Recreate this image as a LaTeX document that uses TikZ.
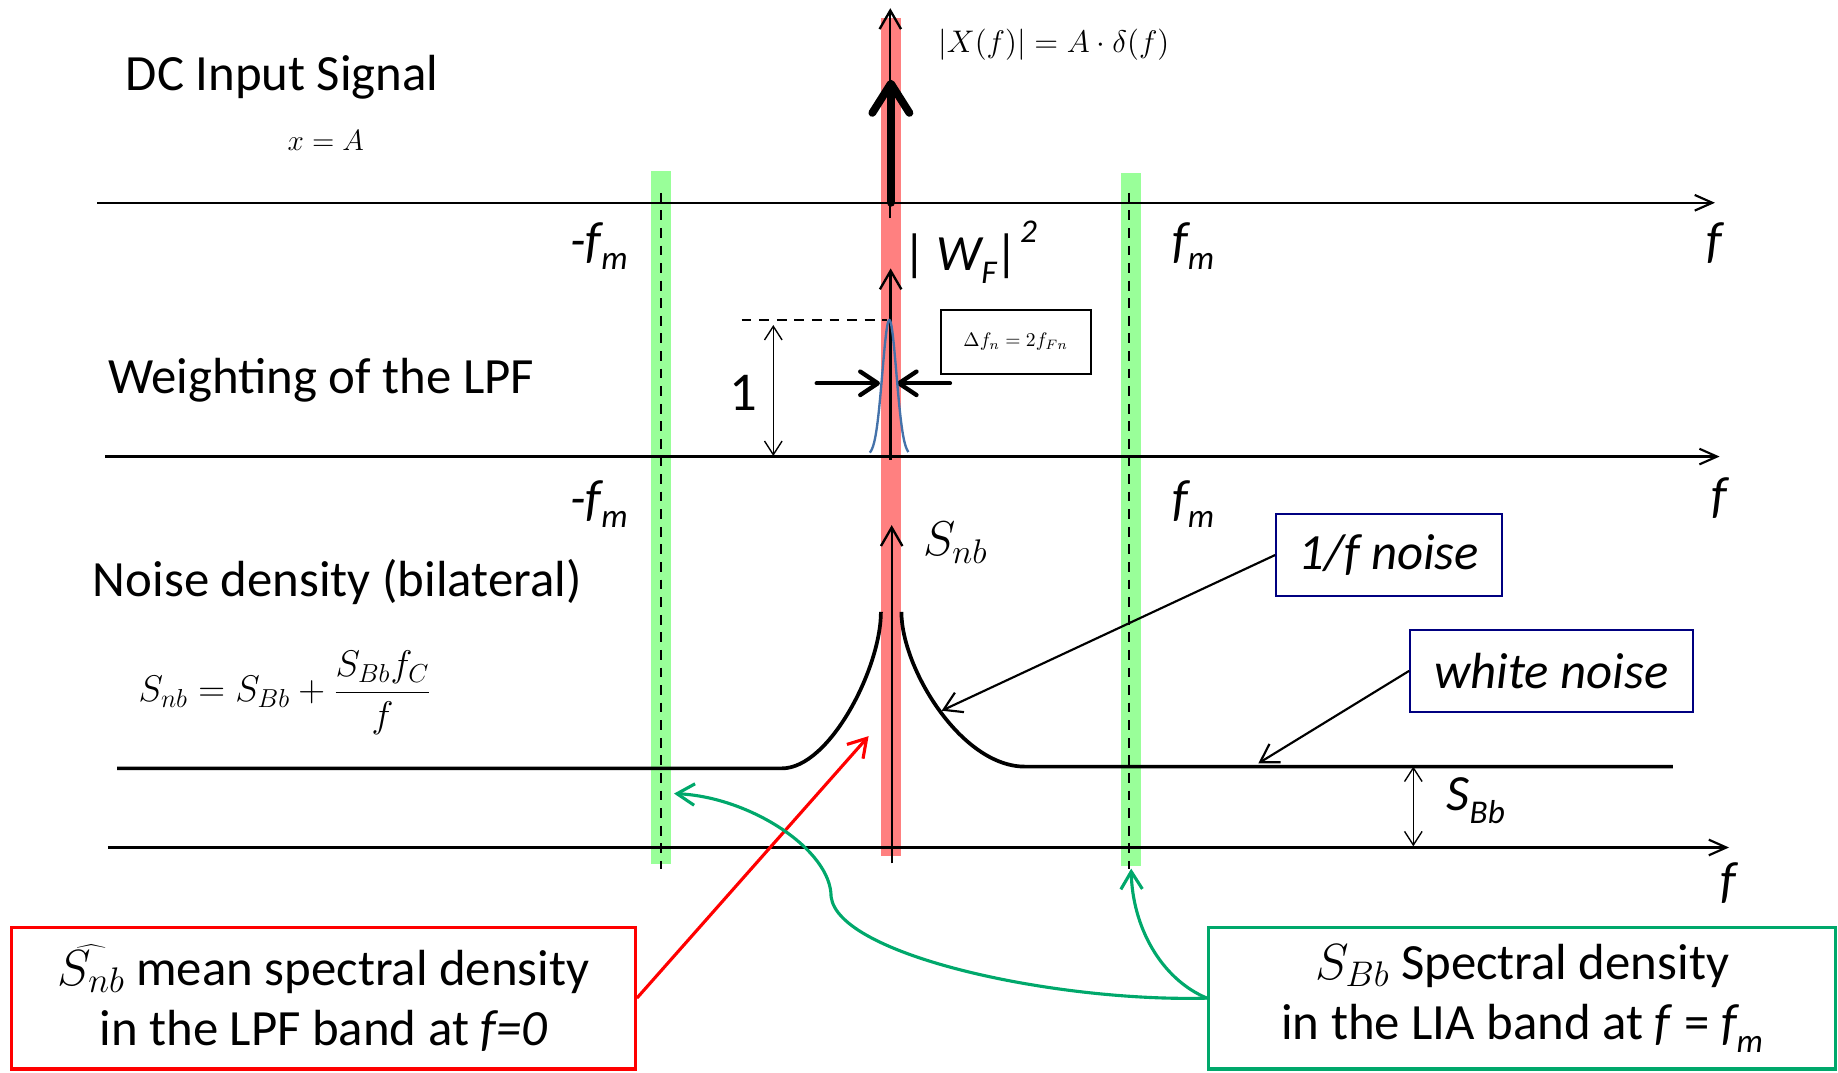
\RequirePackage{fix-cm}
\documentclass[tikz,border=0pt]{standalone}
\usepackage[no-math]{fontspec}
\setmainfont{Carlito}
\usetikzlibrary{arrows.meta}
\definecolor{barred}{RGB}{255,128,128}
\definecolor{bargreen}{RGB}{153,255,153}
\definecolor{conngreen}{RGB}{0,168,107}
\definecolor{boxnavy}{RGB}{0,0,128}
\definecolor{peakblue}{RGB}{68,114,170}
\newcommand{\lsub}[1]{\raisebox{-0.25em}{\fontsize{17}{20}\selectfont #1}}
\newcommand{\lsup}[1]{\raisebox{0.55em}{\fontsize{17}{20}\selectfont #1}}
\tikzset{
 axisarrow/.style={line width=1.1pt,-{Straight Barb[length=9pt,width=8pt]}},
 thinup/.style={line width=1.2pt,-{Straight Barb[length=9.5pt,width=11pt]}},
 bigup/.style={line width=4pt,line cap=round,-{Straight Barb[length=15pt,width=19pt,round]}},
 squeeze/.style={line width=2.2pt,line cap=round,-{Straight Barb[length=9pt,width=12pt,round]}},
 dimarrow/.style={line width=0.7pt,{Straight Barb[length=7pt,width=9pt]}-{Straight Barb[length=7pt,width=9pt]}},
 markerline/.style={line width=1.3pt,dash pattern=on 5pt off 4pt},
 noisecurve/.style={line width=1.9pt},
 pointer/.style={line width=1.1pt,-{Straight Barb[length=9pt,width=11pt]}},
 redptr/.style={red,line width=1.6pt,-{Straight Barb[length=9pt,width=11pt]}},
 greenptr/.style={conngreen,line width=1.6pt,-{Straight Barb[length=9pt,width=11pt]}},
 txt/.style={inner sep=0pt,font=\fontsize{26}{30}\selectfont},
 itxt/.style={inner sep=0pt,font=\fontsize{26}{30}\selectfont\itshape},
 notebox/.style={draw=boxnavy,line width=1pt,inner sep=0pt,font=\fontsize{26}{30}\selectfont\itshape},
 callout/.style={line width=1.6pt,inner sep=0pt,align=center,font=\fontsize{26}{31}\selectfont},
}
\begin{document}
\begin{tikzpicture}[x=0.6pt,y=-0.6pt]
\useasboundingbox (0,0) rectangle (1568,915);
% background bands
\fill[barred] (751.6,15.4) rectangle (768.6,730.3);
\fill[bargreen] (555.5,145.5) rectangle (572.5,737);
\fill[bargreen] (956.3,147.8) rectangle (973.4,739);
% coordinates
\coordinate (a1s) at (83,173);   \coordinate (a1e) at (1463,173);
\coordinate (a2s) at (90,389.5); \coordinate (a2e) at (1467,389.5);
\coordinate (a3s) at (92,723);   \coordinate (a3e) at (1475,723);
\coordinate (gLt) at (564,164.5); \coordinate (gLb) at (564,741);
\coordinate (gRt) at (963,164.5); \coordinate (gRb) at (963,741);
% axes
\draw[axisarrow] (a1s) -- (a1e);
\draw[axisarrow] (a2s) -- (a2e);
\draw[axisarrow] (a3s) -- (a3e);
% dashed marker lines
\draw[markerline] (gLt) -- (gLb);
\draw[markerline] (gRt) -- (gRb);
% top: DC signal
\coordinate (xb) at (759.5,186); \coordinate (xt) at (759.5,7);
\draw[thinup] (xb) -- (xt);
\coordinate (db) at (760,173); \coordinate (dt) at (760,68);
\draw[bigup] (db) -- (dt);
\node[txt,anchor=base west] (dc) at (107,77) {DC Input Signal};
\node[inner sep=0pt,anchor=base west,font=\fontsize{15}{18}\selectfont] (xa) at (245,128) {$x = A$};
\node[inner sep=0pt,font=\fontsize{16}{19}\selectfont] (xf) at (899,38) {$|X(f)| = A\cdot\delta(f)$};
\node[itxt] (f1) at (1462,207) {f};
\node[itxt] (nfm1) at (511,210) {-f\lsub{m}};
\node[itxt] (fm1) at (1018,210) {f\lsub{m}};
% middle: LPF weighting
\node[txt,anchor=base west] (wt) at (92,336) {Weighting of the LPF};
\node[itxt] (wf) at (828,215) {|\,W\lsub{F}|\lsup{2}};
\coordinate (wb) at (759.8,392.4); \coordinate (wtp) at (759.8,229);
\draw[thinup] (wb) -- (wtp);
\coordinate (hl) at (632.7,273); \coordinate (hr) at (756.4,273);
\draw[line width=1.1pt,dash pattern=on 5pt off 4pt] (hl) -- (hr);
\coordinate (ot) at (659.7,277.3); \coordinate (ob) at (659.7,389);
\draw[dimarrow] (ob) -- (ot);
\node[txt,font=\fontsize{28}{32}\selectfont] (one) at (634,335) {1};
\coordinate (sl0) at (696.7,327); \coordinate (sl1) at (750.7,327);
\coordinate (sr0) at (810.4,327); \coordinate (sr1) at (765,327);
\draw[squeeze] (sl0) -- (sl1);
\draw[squeeze] (sr0) -- (sr1);
\draw[peakblue,line width=1.2pt,domain=742:775,samples=90,smooth] plot (\x,{388.5-115.5*exp(-((\x-758.7)^2)/72)});
\node[draw,line width=1pt,minimum width=76.8pt,minimum height=32.7pt,inner sep=0pt,font=\fontsize{10}{12}\selectfont] (dfbox) at (866.5,291.8) {$\Delta f_n = 2 f_{Fn}$};
\node[itxt] (f2) at (1467,425) {f};
\node[itxt] (nfm2) at (511,430) {-f\lsub{m}};
\node[itxt] (fm2) at (1018,430) {f\lsub{m}};
% bottom: noise density
\node[txt,anchor=base west] (nd) at (79,509) {Noise density (bilateral)};
\node[inner sep=0pt,anchor=base west,font=\fontsize{19}{22}\selectfont] (form) at (118,598.6) {$S_{nb} = S_{Bb} + \displaystyle\frac{S_{Bb}f_C}{f}$};
\coordinate (sb) at (760.7,736.5); \coordinate (st) at (760.7,448);
\draw[thinup] (sb) -- (st);
\node[inner sep=0pt,font=\fontsize{25}{29}\selectfont] (snb) at (815,463) {$S_{nb}$};
\draw[noisecurve] (100,655.5) -- (667,655.5) .. controls (707.6,655.5) and (751.5,570) .. (751.5,522);
\draw[noisecurve] (769,522) .. controls (769,570) and (820,654) .. (874.4,654) -- (1427,654);
\node[notebox,minimum width=115.4pt,minimum height=42pt] (onef) at (1184.8,473.5) {1/f noise};
\node[notebox,minimum width=144.6pt,minimum height=41.8pt] (white) at (1323.5,572.3) {white noise};
\coordinate (ftip) at (803.3,606.3);
\coordinate (wntip) at (1073.5,651.2);
\draw[pointer] (onef.west) -- (ftip);
\draw[pointer] (white.west) -- (wntip);
\coordinate (sbt) at (1205.7,654); \coordinate (sbb) at (1205.7,722);
\draw[dimarrow] (sbt) -- (sbb);
\node[itxt] (sbbl) at (1259,683) {S\lsub{Bb}};
\node[itxt] (f3) at (1474,753) {f};
% callouts
\node[callout,draw=red,minimum width=319.2pt,minimum height=72.6pt] (redbox) at (276,851.5) {$\widehat{S_{nb}}$ mean spectral density\\in the LPF band at \textit{f=0}};
\node[callout,draw=conngreen,minimum width=321pt,minimum height=72.6pt] (gbox) at (1298.5,851.5) {$S_{Bb}$ Spectral density\\in the LIA band at \textit{f} = \textit{f\lsub{m}}};
\coordinate (rtip) at (741,628);
\draw[redptr] (redbox.east) -- (rtip);
\coordinate (gmid) at (709,765);
\coordinate (gtipL) at (575,677);
\coordinate (gtipR) at (965,741);
\draw[greenptr] (gbox.west) .. controls (900,855) and (715,815) .. (gmid) .. controls (709,725) and (640,680) .. (gtipL);
\draw[greenptr] (gbox.west) .. controls (990,835) and (966,790) .. (gtipR);
\end{tikzpicture}
\end{document}
